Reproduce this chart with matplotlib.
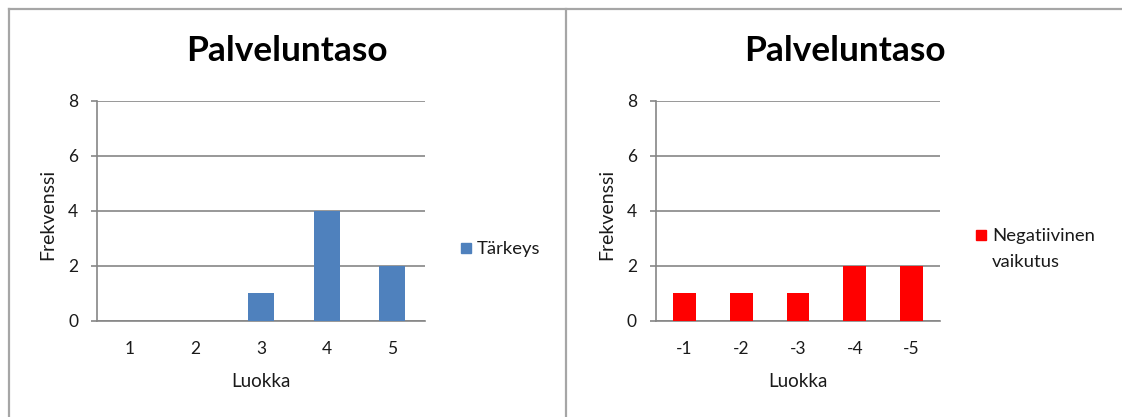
import matplotlib
matplotlib.use("Agg")
import matplotlib.pyplot as plt
from matplotlib.lines import Line2D
from matplotlib.patches import Rectangle

plt.rcParams['font.family'] = ['Lato', 'DejaVu Sans']

# Data
title = "Palveluntaso"
x_label = "Luokka"
y_label = "Frekvenssi"
left_categories = ["1", "2", "3", "4", "5"]
left_values = [0, 0, 1, 4, 2]
left_series = "Tärkeys"
right_categories = ["-1", "-2", "-3", "-4", "-5"]
right_values = [1, 1, 1, 2, 2]
right_series = "Negatiivinen\nvaikutus"
y_ticks = [0, 2, 4, 6, 8]

W, H = 1122, 417
fig = plt.figure(figsize=(W / 100, H / 100), dpi=100)
fig.patch.set_facecolor("white")

def fx(px):
    return px / W

def fy(py):
    return 1 - py / H

GRID = "#868686"
BORDER = "#A6A6A6"
TXT = "#1a1a1a"

# chart borders
for xs, ys in [([8.5, 8.5], [417, 9]), ([8.5, 1122], [9, 9]), ([565.7, 565.7], [9, 417])]:
    fig.add_artist(Line2D([fx(v) for v in xs], [fy(v) for v in ys], color=BORDER, lw=1.6,
                          transform=fig.transFigure))

def make_chart(x0, x1, cats, vals, color, series, title_cx, ylab_x, leg_sq_x, leg_cy, text_y_offsets):
    y_top, y_bot = 100.7, 320.5
    ax = fig.add_axes([fx(x0), fy(y_bot), fx(x1 - x0), (y_bot - y_top) / H])
    pos = list(range(len(cats)))
    ax.bar(pos, vals, width=0.4, color=color, zorder=3)
    ax.set_xlim(-0.5, len(cats) - 0.5)
    ax.set_ylim(0, 8)
    ax.set_yticks(y_ticks)
    ax.set_xticks(pos)
    ax.set_xticklabels(cats)
    ax.yaxis.grid(True, color=GRID, lw=1.2, zorder=0)
    for s in ["top", "right"]:
        ax.spines[s].set_visible(False)
    for s in ["left", "bottom"]:
        ax.spines[s].set_color(GRID)
        ax.spines[s].set_linewidth(1.2)
    ax.tick_params(axis="y", direction="out", length=4.3, width=1.2, color=GRID,
                   labelsize=12.5, labelcolor=TXT, pad=9.5)
    ax.tick_params(axis="x", length=0, labelsize=12.5, labelcolor=TXT, pad=15)
    ax.set_axisbelow(True)
    # x label
    fig.text(fx((x0 + x1) / 2), fy(381.7), x_label, ha="center", va="center", fontsize=13.5, color=TXT)
    # y label
    fig.text(fx(ylab_x), fy(214), y_label, ha="center", va="center", rotation=90, fontsize=14, color=TXT)
    # title
    fig.text(fx(title_cx), fy(51), title, ha="center", va="center", fontsize=25.4, fontweight="bold", color="black")
    # legend
    fig.add_artist(Rectangle((fx(leg_sq_x), fy(leg_cy + 5)), fx(10), 10 / H, color=color,
                             transform=fig.transFigure))
    lines = series.split("\n")
    for i, ln in enumerate(lines):
        fig.text(fx(leg_sq_x + 16), fy(leg_cy + 1.5 + text_y_offsets[i]), ln, ha="left", va="center",
                 fontsize=13.3, color=TXT)
    return ax

make_chart(97.3, 425, left_categories, left_values, "#4F81BD", left_series,
           287, 48, 460.7, 247.7, [0])
make_chart(656, 940, right_categories, right_values, "#FF0000", right_series,
           845, 607, 976, 234.7, [0, 26])

fig.savefig("out.png", dpi=100, facecolor="white")
